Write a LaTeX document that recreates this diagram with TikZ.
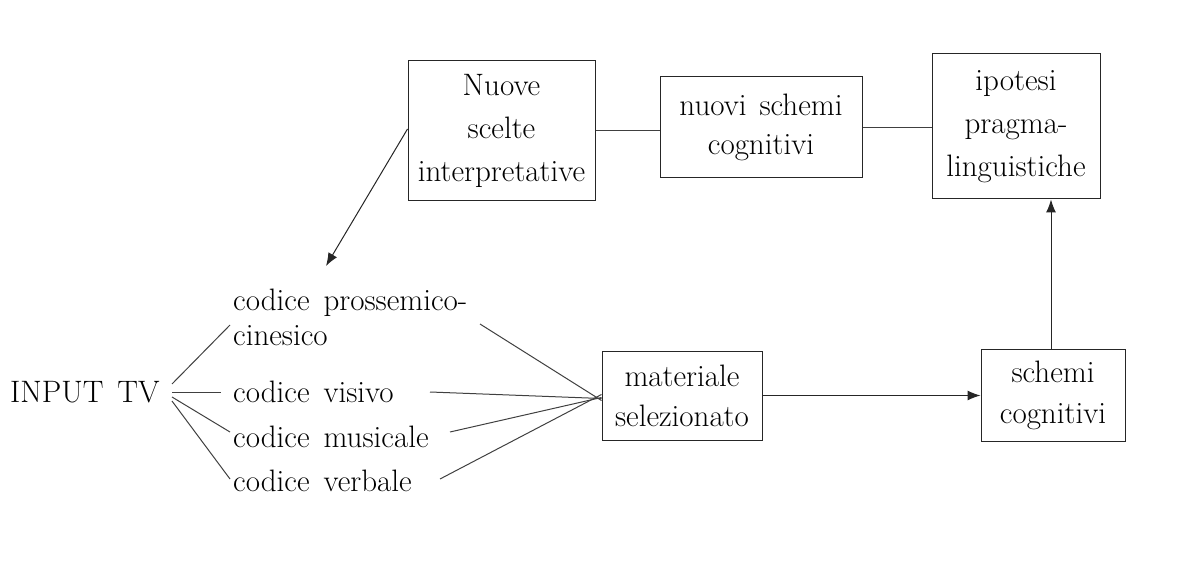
\documentclass[tikz,border=0pt]{standalone}
\usetikzlibrary{arrows.meta}
\newcommand\boxfont{\fontsize{31}{43}\selectfont\spaceskip=13pt plus 3pt\relax}
\newcommand\lblfont{\fontsize{31}{35}\selectfont\spaceskip=14pt plus 3pt\relax}
\begin{document}
\begin{tikzpicture}[x=1pt,y=-1pt,
  box/.style={draw=black!85, line width=1pt, align=center, inner sep=0pt,
    font=\boxfont},
  lbl/.style={inner sep=0pt, align=left, font=\lblfont},
  conn/.style={draw=black!75, line width=1pt},
  arr/.style={draw=black!85, line width=1pt, -{Latex[length=13pt,width=10pt]}}]
\useasboundingbox (0,0) rectangle (1202,564);
% boxes
\node[box, minimum width=187pt, minimum height=140pt] (nuove) at (501.5,131) {Nuove\\scelte\\interpretative};
\node[box, minimum width=202pt, minimum height=101pt] (nuovi) at (761,127.5) {nuovi schemi\\[-4pt]cognitivi};
\node[box, minimum width=168pt, minimum height=145pt] (ipo) at (1016,126.5) {ipotesi\\pragma-\\linguistiche};
\node[box, minimum width=160pt, minimum height=89pt] (mat) at (682,395.5) {materiale\\[-3pt]selezionato};
\node[box, minimum width=144pt, minimum height=92pt] (sch) at (1053,395) {schemi\\[-2pt]cognitivi};
% labels
\node[lbl, anchor=base west] (input) at (10,402) {INPUT TV};
\node[lbl, anchor=north west] (c1) at (233,289) {codice prossemico-\\cinesico};
\node[lbl, anchor=base west] (c2) at (233,402) {codice visivo};
\node[lbl, anchor=base west] (c3) at (233,447) {codice musicale};
\node[lbl, anchor=base west] (c4) at (233,491) {codice verbale};
% connector end points
\coordinate (i1) at (172,384);
\coordinate (i2) at (172,392);
\coordinate (i3) at (172,397);
\coordinate (i4) at (172,401);
\coordinate (l1) at (230,325);
\coordinate (l2) at (221,392);
\coordinate (l3) at (230,432);
\coordinate (l4) at (230,479);
\coordinate (r1) at (480,324);
\coordinate (r2) at (430,392);
\coordinate (r3) at (450,432);
\coordinate (r4) at (440,479);
\coordinate (tip) at (326,266);
% connectors
\draw[conn] (i1) -- (l1);
\draw[conn] (i2) -- (l2);
\draw[conn] (i3) -- (l3);
\draw[conn] (i4) -- (l4);
\draw[conn] (r1) -- ([yshift=-5pt]mat.west);
\draw[conn] (r2) -- ([yshift=-3pt]mat.west);
\draw[conn] (r3) -- ([yshift=-2pt]mat.west);
\draw[conn] (r4) -- ([yshift=1pt]mat.west);
\draw[conn] (nuove.east) -- (nuove.east -| nuovi.west);
\draw[conn] (nuovi.east) -- (nuovi.east -| ipo.west);
\draw[arr] ([yshift=2pt]nuove.west) -- (tip);
\draw[arr] (mat.east) -- (mat.east -| sch.west);
\draw[arr] ([xshift=-2pt]sch.north) -- ([xshift=-2pt]sch.north |- ipo.south);
\end{tikzpicture}
\end{document}
